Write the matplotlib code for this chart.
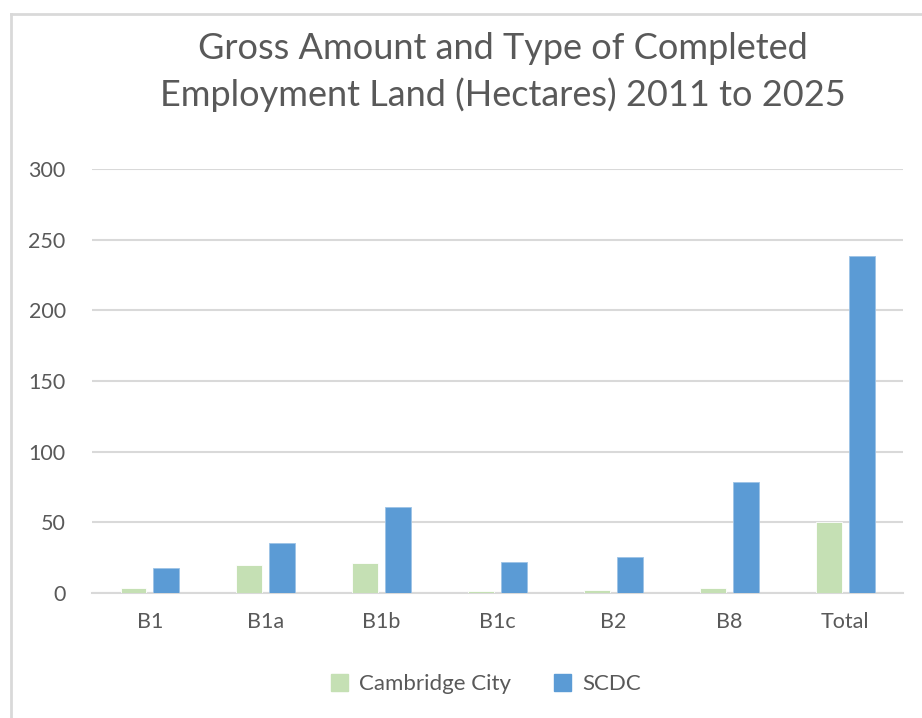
import matplotlib
matplotlib.use("Agg")
import matplotlib.pyplot as plt
import matplotlib.patches as mpatches
from matplotlib.lines import Line2D
import numpy as np

# ── data ──────────────────────────────────────────────────────────────────────
categories = ["B1", "B1a", "B1b", "B1c", "B2", "B8", "Total"]
cambridge_city = [3.5, 19.7, 20.9, 1.6, 2.3, 3.2, 50.4]
scdc = [17.8, 35.2, 60.6, 21.8, 25.4, 78.6, 238.7]
y_ticks = [0, 50, 100, 150, 200, 250, 300]

_C = {
    "city": "#C5E0B4",
    "scdc": "#5B9BD5",
    "grid": "#D9D9D9",
    "text": "#595959",
    "frame": "#D9D9D9",
}

plt.rcParams.update({
    "font.family": ["Lato", "DejaVu Sans"],
    "text.color": _C["text"],
    "axes.labelcolor": _C["text"],
    "xtick.color": _C["text"],
    "ytick.color": _C["text"],
})

fig = plt.figure(figsize=(9.22, 7.18), dpi=100)
ax = fig.add_axes([0.0998, 0.1741, 0.8796, 0.5905])

x = np.arange(len(categories))
w = 0.224
off = 0.142
ax.bar(x - off, cambridge_city, w, color=_C["city"], edgecolor="white",
       linewidth=0.6, label="Cambridge City", zorder=3)
ax.bar(x + off, scdc, w, color=_C["scdc"], edgecolor="#9DC3E6",
       linewidth=0.6, label="SCDC", zorder=3)

ax.set_xlim(-0.5, len(categories) - 0.5)
ax.set_ylim(0, 300)
ax.set_yticks(y_ticks)
ax.set_xticks(x)
ax.set_xticklabels(categories)
ax.yaxis.grid(True, color=_C["grid"], linewidth=1.5, zorder=0)
ax.set_axisbelow(True)
for s in ["top", "right", "left"]:
    ax.spines[s].set_visible(False)
ax.spines["bottom"].set_color(_C["grid"])
ax.spines["bottom"].set_linewidth(1.5)
ax.tick_params(axis="both", length=0, labelsize=15.5)
ax.tick_params(axis="y", pad=19)
ax.tick_params(axis="x", pad=14)

fig.text(0.545, 0.955, "Gross Amount and Type of Completed\nEmployment Land (Hectares) 2011 to 2025",
         ha="center", va="top", fontsize=26, linespacing=1.42)

handles = [mpatches.Patch(color=_C["city"], label="Cambridge City"),
           mpatches.Patch(color=_C["scdc"], label="SCDC")]
fig.legend(handles=handles, loc="center", bbox_to_anchor=(0.527, 0.047), ncol=2,
           frameon=False, fontsize=16, handlelength=0.8, handleheight=0.8,
           handletextpad=0.5, columnspacing=1.9)

# chart border (light gray frame, partly cropped)
fig.add_artist(Line2D([11 / 922, 11 / 922], [0, 1 - 14 / 718],
                      transform=fig.transFigure, color=_C["frame"], linewidth=2))
fig.add_artist(Line2D([11 / 922, 1], [1 - 14 / 718, 1 - 14 / 718],
                      transform=fig.transFigure, color=_C["frame"], linewidth=2))

fig.savefig("out.png", dpi=100)
